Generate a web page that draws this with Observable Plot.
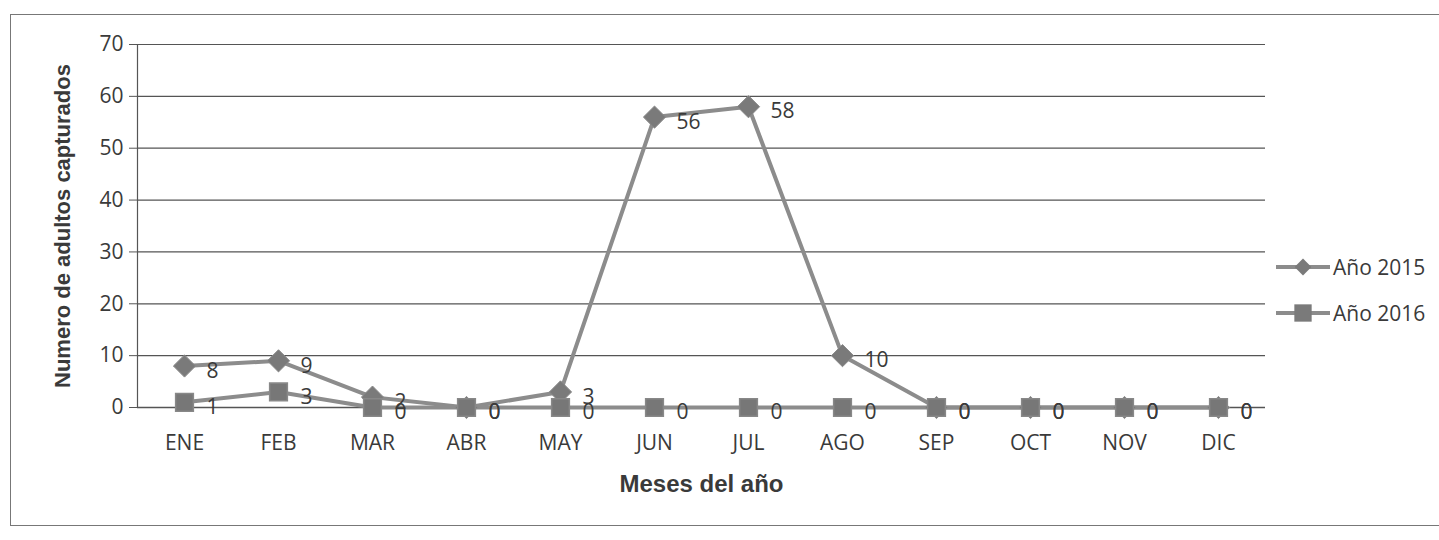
<!DOCTYPE html>
<html>
<head>
<meta charset="utf-8">
<script src="https://cdn.jsdelivr.net/npm/d3@7"></script>
<script src="https://cdn.jsdelivr.net/npm/@observablehq/plot@0.6"></script>
<style>
  html, body { margin: 0; padding: 0; background: #fff; }
  #wrap { position: relative; width: 1439px; height: 540px; overflow: hidden; }
  #frame { position: absolute; left: 10px; top: 14px; width: 1500px; height: 512px; border: 1.5px solid #777; box-sizing: border-box; }
  #chart { position: absolute; left: 0; top: 0; }
  #legend { position: absolute; left: 1276px; top: 244px; font-family: "Open Sans", Lato, sans-serif; font-size: 21px; color: #3a3a3a; }
  .item { display: flex; align-items: center; height: 46px; }
  .item svg { margin-right: 3px; }
</style>
</head>
<body>
<div id="wrap">
  <div id="frame"></div>
  <div id="chart"></div>
  <div id="legend"></div>
</div>
<script>
const months = ["ENE","FEB","MAR","ABR","MAY","JUN","JUL","AGO","SEP","OCT","NOV","DIC"];
const values2015 = [8, 9, 2, 0, 3, 56, 58, 10, 0, 0, 0, 0];
const values2016 = [1, 3, 0, 0, 0, 0, 0, 0, 0, 0, 0, 0];
const yTicks = [0, 10, 20, 30, 40, 50, 60, 70];
const seriesNames = ["Año 2015", "Año 2016"];

const d15 = months.map((m, i) => ({month: m, value: values2015[i], series: seriesNames[0]}));
const d16 = months.map((m, i) => ({month: m, value: values2016[i], series: seriesNames[1]}));

const lineColor = "#8c8c8c";
const markColor = "#7a7a7a";
const textColor = "#3a3a3a";

const chart = Plot.plot({
  width: 1439,
  height: 540,
  marginLeft: 137,
  marginRight: 174,
  marginTop: 44,
  marginBottom: 133,
  style: {fontFamily: "'Open Sans', Lato, sans-serif", fontSize: "21px", color: textColor, background: "transparent"},
  x: {type: "point", domain: months, padding: 0.5},
  y: {domain: [0, 70], ticks: yTicks},
  marks: [
    Plot.gridY(yTicks, {stroke: "#555", strokeOpacity: 1, strokeWidth: 1.2}),
    Plot.axisY(yTicks, {tickSize: 8, tickPadding: 6, stroke: "#555", label: null, fontSize: 21, fill: textColor}),
    Plot.axisX({tickSize: 0, tickPadding: 28, label: null, fontSize: 21, fill: textColor}),
    Plot.frame({anchor: "left", stroke: "#555", strokeWidth: 1.2}),
    Plot.ruleY([0], {stroke: "#555", strokeWidth: 1.5}),
    Plot.line(d15, {x: "month", y: "value", stroke: lineColor, strokeWidth: 4}),
    Plot.line(d16, {x: "month", y: "value", stroke: lineColor, strokeWidth: 4}),
    Plot.dot(d15, {x: "month", y: "value", symbol: "diamond2", r: 10, fill: markColor, stroke: "#8a8a8a", strokeWidth: 1}),
    Plot.dot(d16, {x: "month", y: "value", symbol: "square", r: 10, fill: "#777", stroke: "#888"}),
    Plot.text(d15, {x: "month", y: "value", text: d => String(d.value), dx: 22, dy: 5, textAnchor: "start", fill: textColor, fontSize: 21}),
    Plot.text(d16, {x: "month", y: "value", text: d => String(d.value), dx: 22, dy: 5, textAnchor: "start", fill: textColor, fontSize: 21}),
    Plot.text(["Numero de adultos capturados"], {frameAnchor: "left", dx: -75, rotate: -90, textAnchor: "middle", text: d => d, fontFamily: "'Liberation Sans', Arial, sans-serif", fontWeight: "bold", fontSize: 22, fill: textColor}),
    Plot.text(["Meses del año"], {frameAnchor: "bottom", dy: 84, text: d => d, fontFamily: "'Liberation Sans', Arial, sans-serif", fontWeight: "bold", fontSize: 24, fill: textColor})
  ]
});
document.getElementById("chart").appendChild(chart);

// Legend
const legend = document.getElementById("legend");
seriesNames.forEach((name, i) => {
  const item = document.createElement("div");
  item.className = "item";
  const ns = "http://www.w3.org/2000/svg";
  const svg = document.createElementNS(ns, "svg");
  svg.setAttribute("width", 54);
  svg.setAttribute("height", 24);
  const line = document.createElementNS(ns, "line");
  line.setAttribute("x1", 0); line.setAttribute("x2", 54);
  line.setAttribute("y1", 12); line.setAttribute("y2", 12);
  line.setAttribute("stroke", lineColor); line.setAttribute("stroke-width", 4);
  svg.appendChild(line);
  const sym = document.createElementNS(ns, "path");
  sym.setAttribute("d", d3.symbol(i === 0 ? d3.symbolDiamond2 : d3.symbolSquare, i === 0 ? 180 : 300)());
  sym.setAttribute("transform", "translate(27,12)");
  sym.setAttribute("fill", markColor);
  svg.appendChild(sym);
  item.appendChild(svg);
  const span = document.createElement("span");
  span.textContent = name;
  item.appendChild(span);
  legend.appendChild(item);
});
</script>
</body>
</html>
